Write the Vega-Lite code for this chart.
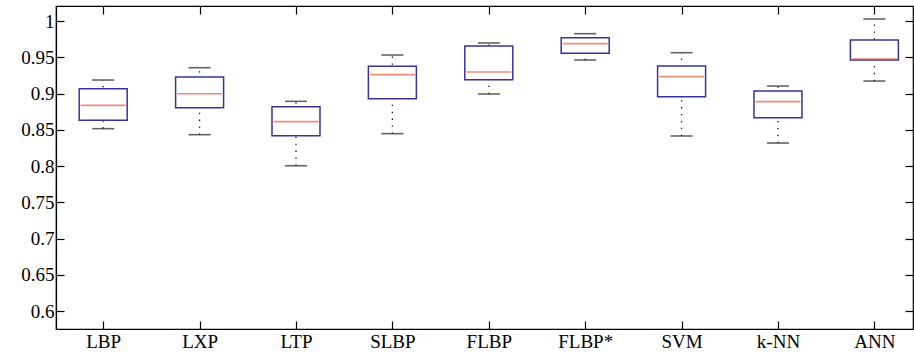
{
  "$schema": "https://vega.github.io/schema/vega-lite/v6.json",
  "width": 857,
  "height": 323,
  "autosize": {"type": "none"},
  "padding": {"left": 56, "top": 6, "right": 1, "bottom": 30},
  "background": "white",
  "config": {
    "view": {"stroke": "#000", "strokeWidth": 1.2},
    "font": "Liberation Serif",
    "axis": {
      "labelFont": "Liberation Serif",
      "labelFontSize": 19,
      "labelColor": "#000",
      "domainColor": "#000",
      "domainWidth": 1.2,
      "tickColor": "#000",
      "tickWidth": 1.2,
      "grid": false,
      "title": null
    }
  },
  "data": {
    "values": [
      {"method": "LBP", "lower": 0.8515, "q1": 0.863, "median": 0.8837, "q3": 0.9067, "upper": 0.9186},
      {"method": "LXP", "lower": 0.8432, "q1": 0.8804, "median": 0.8997, "q3": 0.9228, "upper": 0.9356},
      {"method": "LTP", "lower": 0.8004, "q1": 0.8418, "median": 0.8611, "q3": 0.8818, "upper": 0.8892},
      {"method": "SLBP", "lower": 0.8446, "q1": 0.8929, "median": 0.926, "q3": 0.9375, "upper": 0.9531},
      {"method": "FLBP", "lower": 0.8993, "q1": 0.919, "median": 0.9297, "q3": 0.9655, "upper": 0.9697},
      {"method": "FLBP*", "lower": 0.9462, "q1": 0.9554, "median": 0.9687, "q3": 0.977, "upper": 0.9825},
      {"method": "SVM", "lower": 0.8414, "q1": 0.8956, "median": 0.9232, "q3": 0.9379, "upper": 0.9563},
      {"method": "k-NN", "lower": 0.8317, "q1": 0.8667, "median": 0.8887, "q3": 0.9034, "upper": 0.9103},
      {"method": "ANN", "lower": 0.9172, "q1": 0.9462, "median": 0.9476, "q3": 0.9738, "upper": 1.0028}
    ]
  },
  "resolve": {"axis": {"x": "independent", "y": "independent"}},
  "layer": [
    {
      "mark": {"type": "rule", "color": "#111", "strokeWidth": 1.3, "strokeDash": [1.3, 5.6]},
      "encoding": {
        "x": {
          "field": "method", "type": "nominal", "sort": null,
          "scale": {"type": "point", "padding": 0.445, "align": 0.55},
          "axis": {"orient": "bottom", "labelAngle": 0, "tickSize": -8, "labelPadding": 11}
        },
        "y": {
          "field": "lower", "type": "quantitative",
          "scale": {"domain": [0.5752, 1.0207], "nice": false, "zero": false},
          "axis": {"orient": "left", "values": [0.6, 0.65, 0.7, 0.75, 0.8, 0.85, 0.9, 0.95, 1], "format": "~g", "tickSize": -8, "labelPadding": 10}
        },
        "y2": {"field": "upper"}
      }
    },
    {
      "mark": {"type": "bar", "fill": "white", "stroke": "#38339a", "strokeWidth": 1.5, "size": 48},
      "encoding": {
        "x": {"field": "method", "type": "nominal", "sort": null, "axis": null},
        "y": {"field": "q1", "type": "quantitative", "axis": null},
        "y2": {"field": "q3"}
      }
    },
    {
      "mark": {"type": "tick", "color": "#222", "size": 22, "thickness": 1.6},
      "encoding": {
        "x": {"field": "method", "type": "nominal", "sort": null,
          "axis": {"orient": "top", "labels": false, "domain": false, "tickSize": -8}},
        "y": {"field": "upper", "type": "quantitative",
          "axis": {"orient": "right", "labels": false, "domain": false, "values": [0.6, 0.65, 0.7, 0.75, 0.8, 0.85, 0.9, 0.95, 1], "tickSize": -8}}
      }
    },
    {
      "mark": {"type": "tick", "color": "#222", "size": 22, "thickness": 1.6},
      "encoding": {
        "x": {"field": "method", "type": "nominal", "sort": null, "axis": null},
        "y": {"field": "lower", "type": "quantitative", "axis": null}
      }
    },
    {
      "mark": {"type": "tick", "color": "#ee5a3c", "size": 45, "thickness": 1.7},
      "encoding": {
        "x": {"field": "method", "type": "nominal", "sort": null, "axis": null},
        "y": {"field": "median", "type": "quantitative", "axis": null}
      }
    }
  ]
}
